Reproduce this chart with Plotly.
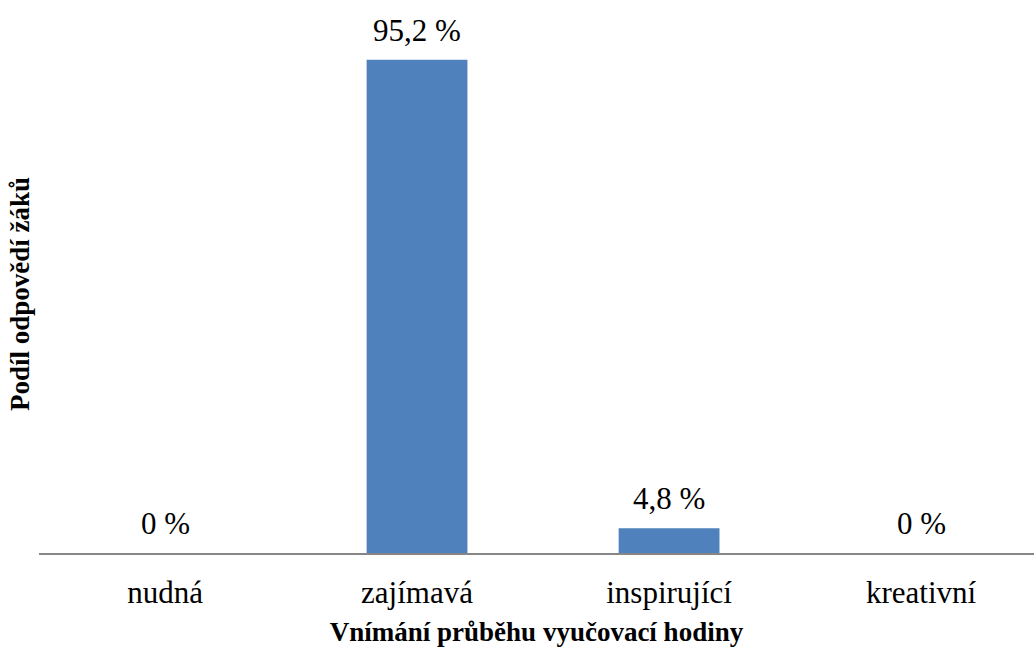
import plotly.graph_objects as go

categories = ["nudná", "zajímavá", "inspirující", "kreativní"]
shares = [0, 95.2, 4.8, 0]
value_labels = ["0 %", "95,2 %", "4,8 %", "0 %"]

FONT = "Liberation Serif, Times New Roman, serif"
BAR_COLOR = "#4F81BD"

fig = go.Figure()
fig.add_trace(go.Bar(
    x=categories,
    y=shares,
    width=0.4,
    marker=dict(color=BAR_COLOR, line=dict(width=0)),
    hoverinfo="skip",
))

for cat, val, lab in zip(categories, shares, value_labels):
    fig.add_annotation(
        x=cat, y=val, text=lab, showarrow=False,
        xanchor="center", yanchor="bottom", yshift=10,
        font=dict(family=FONT, size=31, color="#000000"),
    )

fig.update_layout(
    width=1034, height=648,
    margin=dict(l=39, r=0, t=35, b=95),
    paper_bgcolor="white", plot_bgcolor="white",
    showlegend=False,
    bargap=0.6,
    xaxis=dict(
        range=[-0.5, 3.448],
        showline=True, linecolor="#868686", linewidth=2,
        showgrid=False, zeroline=False, ticks="",
        tickfont=dict(family=FONT, size=31, color="#000000"),
        ticklabelstandoff=11,
        title=dict(text="<b>Vnímání průběhu vyučovací hodiny</b>",
                   font=dict(family=FONT, size=27, color="#000000"),
                   standoff=13),
    ),
    yaxis=dict(
        range=[0, 100],
        showline=False, showgrid=False, zeroline=False,
        showticklabels=False, ticks="",
        title=dict(text="<b>Podíl odpovědí žáků</b>",
                   font=dict(family=FONT, size=27, color="#000000"),
                   standoff=0),
    ),
)

fig.write_html("out.html")
